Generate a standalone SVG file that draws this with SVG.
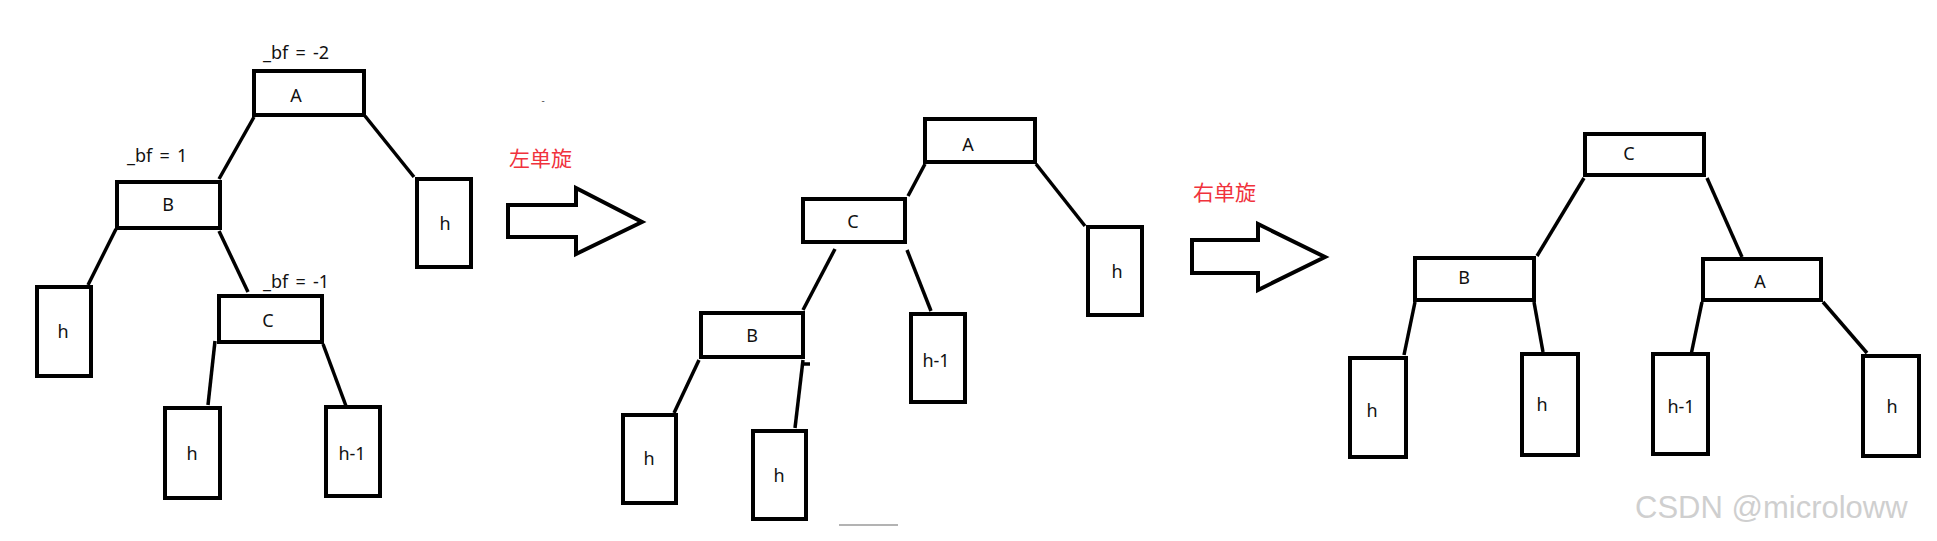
<svg xmlns="http://www.w3.org/2000/svg" width="1937" height="541" viewBox="0 0 1937 541">
<style>
.box{fill:#fff;stroke:#000;stroke-width:4}
.lbl{font-family:"Noto Sans","Open Sans",sans-serif;font-size:18px;fill:#111;text-anchor:middle}
.bf{font-family:"Noto Sans","Open Sans",sans-serif;font-size:18px;fill:#111;word-spacing:2.5px}
.cn{font-family:"Noto Sans CJK SC","Noto Sans",sans-serif;font-size:21px;fill:#f0323c}
.edge{stroke:#000;stroke-width:3.5;fill:none;stroke-linecap:butt}
.arrow{fill:#fff;stroke:#000;stroke-width:4;stroke-linejoin:miter}
</style>
<rect width="1937" height="541" fill="#fff"/>

<g id="connectors">
  <line class="edge" x1="254" y1="117" x2="219" y2="179"/>
  <line class="edge" x1="365" y1="116" x2="414" y2="177"/>
  <line class="edge" x1="116" y1="229" x2="88" y2="285"/>
  <line class="edge" x1="219" y1="231" x2="248" y2="292"/>
  <line class="edge" x1="215" y1="341" x2="208" y2="405"/>
  <line class="edge" x1="323" y1="344" x2="346" y2="406"/>

  <line class="edge" x1="925" y1="164" x2="908" y2="196"/>
  <line class="edge" x1="1036" y1="164" x2="1085" y2="226"/>
  <line class="edge" x1="835" y1="249" x2="803" y2="310"/>
  <line class="edge" x1="907" y1="250" x2="931" y2="311"/>
  <line class="edge" x1="699" y1="360" x2="674" y2="413"/>
  <line class="edge" x1="803" y1="360" x2="795" y2="428"/>
  <line class="edge" x1="803" y1="364" x2="810" y2="364"/>

  <line class="edge" x1="1584" y1="178" x2="1537" y2="256"/>
  <line class="edge" x1="1707" y1="178" x2="1742" y2="257"/>
  <line class="edge" x1="1415" y1="302" x2="1404" y2="355"/>
  <line class="edge" x1="1534" y1="302" x2="1543" y2="352"/>
  <line class="edge" x1="1702" y1="302" x2="1691" y2="355"/>
  <line class="edge" x1="1823" y1="302" x2="1867" y2="353"/>
</g>

<!-- tree 1 -->
<g id="t1-A"><rect class="box" x="254" y="71" width="110" height="44"/><text class="lbl" x="296" y="102">A</text></g>
<text class="bf" x="263" y="59">_bf = -2</text>
<g id="t1-B"><rect class="box" x="117" y="182" width="103" height="46"/><text class="lbl" x="168" y="211">B</text></g>
<text class="bf" x="127" y="162">_bf = 1</text>
<g id="t1-hA"><rect class="box" x="417" y="179" width="54" height="88"/><text class="lbl" x="445" y="230">h</text></g>
<g id="t1-hB"><rect class="box" x="37" y="287" width="54" height="89"/><text class="lbl" x="63" y="338">h</text></g>
<g id="t1-C"><rect class="box" x="219" y="296" width="103" height="46"/><text class="lbl" x="268" y="327">C</text></g>
<text class="bf" x="263" y="288">_bf = -1</text>
<g id="t1-hC"><rect class="box" x="165" y="408" width="55" height="90"/><text class="lbl" x="192" y="460">h</text></g>
<g id="t1-h1C"><rect class="box" x="326" y="407" width="54" height="89"/><text class="lbl" x="352" y="460">h-1</text></g>

<!-- arrow 1 -->
<text x="543" y="104" font-family="Noto Sans, sans-serif" font-size="10" fill="#555" text-anchor="middle">-</text>
<text class="cn" x="509" y="166">左单旋</text>
<g id="arrow1"><polygon class="arrow" points="508,205 576,205 576,188 642,222 576,254 576,237 508,237"/></g>

<!-- tree 2 -->
<g id="t2-A"><rect class="box" x="925" y="119" width="110" height="43"/><text class="lbl" x="968" y="151">A</text></g>
<g id="t2-C"><rect class="box" x="803" y="199" width="102" height="43"/><text class="lbl" x="853" y="228">C</text></g>
<g id="t2-hA"><rect class="box" x="1088" y="227" width="54" height="88"/><text class="lbl" x="1117" y="278">h</text></g>
<g id="t2-B"><rect class="box" x="701" y="313" width="102" height="44"/><text class="lbl" x="752" y="342">B</text></g>
<g id="t2-h1"><rect class="box" x="911" y="314" width="54" height="88"/><text class="lbl" x="936" y="367">h-1</text></g>
<g id="t2-hL"><rect class="box" x="623" y="415" width="53" height="88"/><text class="lbl" x="649" y="465">h</text></g>
<g id="t2-hM"><rect class="box" x="753" y="431" width="53" height="88"/><text class="lbl" x="779" y="482">h</text></g>
<line x1="839" y1="525" x2="898" y2="525" stroke="#9a9a9a" stroke-width="1.5"/>

<!-- arrow 2 -->
<text class="cn" x="1193" y="200">右单旋</text>
<g id="arrow2"><polygon class="arrow" points="1192,240 1258,240 1258,224 1325,257 1258,290 1258,273 1192,273"/></g>

<!-- tree 3 -->
<g id="t3-C"><rect class="box" x="1585" y="134" width="119" height="41"/><text class="lbl" x="1629" y="160">C</text></g>
<g id="t3-B"><rect class="box" x="1415" y="258" width="119" height="42"/><text class="lbl" x="1464" y="284">B</text></g>
<g id="t3-A"><rect class="box" x="1703" y="259" width="118" height="41"/><text class="lbl" x="1760" y="288">A</text></g>
<g id="t3-hL"><rect class="box" x="1350" y="358" width="56" height="99"/><text class="lbl" x="1372" y="417">h</text></g>
<g id="t3-hR"><rect class="box" x="1522" y="354" width="56" height="101"/><text class="lbl" x="1542" y="411">h</text></g>
<g id="t3-h1"><rect class="box" x="1653" y="354" width="55" height="100"/><text class="lbl" x="1681" y="413">h-1</text></g>
<g id="t3-h"><rect class="box" x="1863" y="356" width="56" height="100"/><text class="lbl" x="1892" y="413">h</text></g>

<text x="1636" y="519" font-family="Liberation Sans, Arial, sans-serif" font-size="31" fill="#fff" opacity="0.9">CSDN @microloww</text>
<text x="1635" y="518" font-family="Liberation Sans, Arial, sans-serif" font-size="31" fill="#cfcfcf">CSDN @microloww</text>
</svg>
